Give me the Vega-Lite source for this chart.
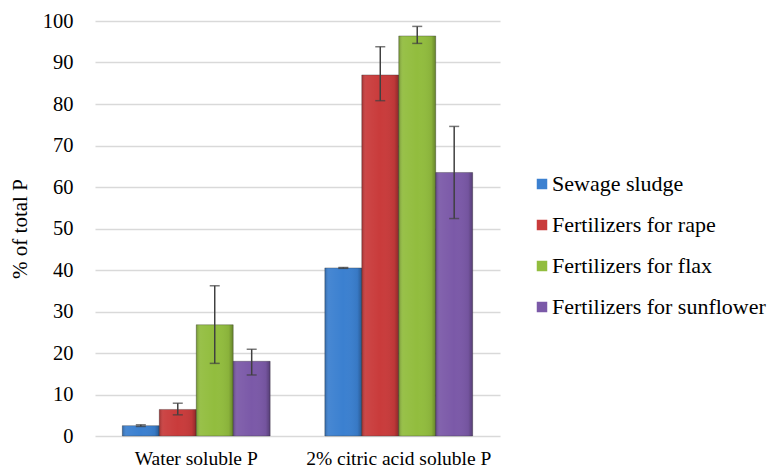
{
  "$schema": "https://vega.github.io/schema/vega-lite/v6.json",
  "width": 405,
  "height": 415,
  "autosize": {"type": "none"},
  "padding": {"left": 95, "top": 21, "right": 273, "bottom": 32},
  "background": "white",
  "config": {"view": {"stroke": null}},
  "data": {
    "values": [
      {"group": "Water soluble P", "series": "Sewage sludge", "value": 2.5, "lo": 2.3, "hi": 2.7},
      {"group": "Water soluble P", "series": "Fertilizers for rape", "value": 6.4, "lo": 5.1, "hi": 7.9},
      {"group": "Water soluble P", "series": "Fertilizers for flax", "value": 26.8, "lo": 17.5, "hi": 36.2},
      {"group": "Water soluble P", "series": "Fertilizers for sunflower", "value": 18.0, "lo": 14.7, "hi": 20.9},
      {"group": "2% citric acid soluble P", "series": "Sewage sludge", "value": 40.5, "lo": 40.4, "hi": 40.6},
      {"group": "2% citric acid soluble P", "series": "Fertilizers for rape", "value": 87.0, "lo": 80.8, "hi": 93.8},
      {"group": "2% citric acid soluble P", "series": "Fertilizers for flax", "value": 96.4, "lo": 94.6, "hi": 98.7},
      {"group": "2% citric acid soluble P", "series": "Fertilizers for sunflower", "value": 63.5, "lo": 52.4, "hi": 74.6}
    ]
  },
  "encoding": {
    "x": {
      "field": "group", "type": "nominal",
      "sort": ["Water soluble P", "2% citric acid soluble P"],
      "scale": {"paddingInner": 0.27, "paddingOuter": 0.135},
      "axis": {"title": null, "labelAngle": 0, "labelFont": "Liberation Serif", "labelFontSize": 19.5, "labelColor": "#000000", "labelPadding": 13, "ticks": false, "domain": false, "labelLimit": 300}
    },
    "xOffset": {
      "field": "series", "type": "nominal",
      "sort": ["Sewage sludge", "Fertilizers for rape", "Fertilizers for flax", "Fertilizers for sunflower"],
      "scale": {"paddingInner": 0, "paddingOuter": 0}
    }
  },
  "layer": [
    {
      "mark": {"type": "bar", "stroke": "#333333", "strokeOpacity": 0.35, "strokeWidth": 1},
      "encoding": {
        "y": {
          "field": "value", "type": "quantitative",
          "scale": {"domain": [0, 100], "nice": false},
          "axis": {
            "title": "% of total P", "titleFont": "Liberation Serif", "titleFontSize": 21, "titleFontWeight": "normal", "titleColor": "#000000", "titlePadding": 12,
            "values": [0, 10, 20, 30, 40, 50, 60, 70, 80, 90, 100],
            "labelFont": "Liberation Serif", "labelFontSize": 20.5, "labelColor": "#000000", "labelPadding": 22, "ticks": false, "domain": false,
            "grid": true, "gridColor": "#d9d9d9", "gridWidth": 1.5
          }
        },
        "color": {
          "field": "series", "type": "nominal",
          "sort": ["Sewage sludge", "Fertilizers for rape", "Fertilizers for flax", "Fertilizers for sunflower"],
          "scale": {
            "domain": ["Sewage sludge", "Fertilizers for rape", "Fertilizers for flax", "Fertilizers for sunflower"],
            "range": ["#3b80d0", "#c93b3b", "#92bd3e", "#7b59a8"]
          },
          "legend": {
            "title": null, "orient": "none", "legendX": 436, "legendY": 152,
            "symbolType": "square", "symbolSize": 110, "symbolStrokeWidth": 0,
            "labelFont": "Liberation Serif", "labelFontSize": 22, "labelColor": "#000000", "labelLimit": 300, "rowPadding": 19, "labelOffset": -1
          }
        }
      }
    },
    {
      "mark": {
        "type": "bar",
        "fill": {
          "gradient": "linear", "x1": 0, "y1": 0, "x2": 1, "y2": 0,
          "stops": [
            {"offset": 0, "color": "rgba(0,0,0,0.22)"},
            {"offset": 0.12, "color": "rgba(255,255,255,0.06)"},
            {"offset": 0.5, "color": "rgba(255,255,255,0.0)"},
            {"offset": 0.88, "color": "rgba(0,0,0,0.06)"},
            {"offset": 1, "color": "rgba(0,0,0,0.3)"}
          ]
        }
      },
      "encoding": {
        "y": {"field": "value", "type": "quantitative"}
      }
    },
    {
      "mark": {"type": "rule", "color": "#404040", "strokeWidth": 1.5},
      "encoding": {
        "y": {"field": "lo", "type": "quantitative"},
        "y2": {"field": "hi"}
      }
    },
    {
      "mark": {"type": "tick", "color": "#404040", "thickness": 1.5, "size": 10, "orient": "horizontal"},
      "encoding": {
        "y": {"field": "hi", "type": "quantitative"}
      }
    },
    {
      "mark": {"type": "tick", "color": "#404040", "thickness": 1.5, "size": 10, "orient": "horizontal"},
      "encoding": {
        "y": {"field": "lo", "type": "quantitative"}
      }
    }
  ]
}
